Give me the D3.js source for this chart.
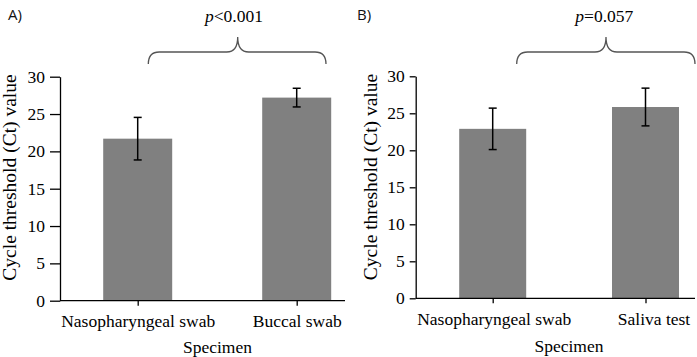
<!DOCTYPE html>
<html><head><meta charset="utf-8">
<script src="https://cdn.jsdelivr.net/npm/d3@7"></script>
<style>body{margin:0;background:#fff}svg{display:block}</style>
</head><body>
<script>
const panelLabels = ["A)", "B)"];
const categoriesA = ["Nasopharyngeal swab", "Buccal swab"];
const meansA = [21.7, 27.2];
const errorsA = [2.85, 1.25];
const pLabelA = "<0.001";
const categoriesB = ["Nasopharyngeal swab", "Saliva test"];
const meansB = [22.9, 25.85];
const errorsB = [2.8, 2.55];
const pLabelB = "=0.057";
const yTicks = [0, 5, 10, 15, 20, 25, 30];
const yTitle = "Cycle threshold (Ct) value";
const xTitle = "Specimen";

const W = 697, H = 357;
const svg = d3.select("body").append("svg").attr("width", W).attr("height", H);
const serif = "'Liberation Serif', 'Times New Roman', serif";

function panel(cfg) {
  const g = svg.append("g");
  const y = d3.scaleLinear().domain([0, 30]).range([cfg.y0, cfg.y30]);
  const x = d3.scalePoint().domain(cfg.cats).range(cfg.xr);

  // bars
  g.selectAll("rect.bar").data(cfg.cats).enter().append("rect")
    .attr("x", d => x(d) - cfg.bw / 2)
    .attr("width", cfg.bw)
    .attr("y", (d, i) => y(cfg.means[i]))
    .attr("height", (d, i) => y(0) - y(cfg.means[i]))
    .attr("fill", "#808080");

  // error bars
  const eb = g.selectAll("g.err").data(cfg.cats).enter().append("g");
  eb.append("line")
    .attr("x1", d => x(d)).attr("x2", d => x(d))
    .attr("y1", (d, i) => y(cfg.means[i] + cfg.errs[i]))
    .attr("y2", (d, i) => y(cfg.means[i] - cfg.errs[i]))
    .attr("stroke", "#000").attr("stroke-width", 1.5);
  [1, -1].forEach(s => {
    eb.append("line")
      .attr("x1", d => x(d) - 4).attr("x2", d => x(d) + 4)
      .attr("y1", (d, i) => y(cfg.means[i] + s * cfg.errs[i]))
      .attr("y2", (d, i) => y(cfg.means[i] + s * cfg.errs[i]))
      .attr("stroke", "#000").attr("stroke-width", 1.5);
  });

  // y axis
  const ya = g.append("g").attr("transform", `translate(${cfg.ax},0)`)
    .call(d3.axisLeft(y).tickValues(yTicks).tickSize(cfg.tl).tickPadding(5).tickSizeOuter(0));
  ya.select(".domain").attr("stroke", "#000").attr("stroke-width", 1.3);
  ya.selectAll(".tick line").attr("stroke", "#000").attr("stroke-width", 1.3);
  ya.selectAll("text").attr("font-family", serif).attr("font-size", 17.5).attr("fill", "#000");

  // x axis line
  g.append("line").attr("x1", cfg.ax).attr("x2", cfg.axEnd)
    .attr("y1", y(0)).attr("y2", y(0)).attr("stroke", "#000").attr("stroke-width", 1.3);
  const xa = g.append("g").attr("transform", `translate(0,${y(0)})`)
    .call(d3.axisBottom(x).tickSize(5).tickSizeOuter(0).tickPadding(9));
  xa.select(".domain").remove();
  xa.selectAll(".tick line").attr("stroke", "#000").attr("stroke-width", 1.3);
  xa.selectAll("text").attr("font-family", serif).attr("font-size", 17.5).attr("fill", "#000")
    .attr("dx", (d, i) => cfg.labelDx[i]);

  // titles
  g.append("text").attr("x", cfg.xtx).attr("y", cfg.xty).attr("text-anchor", "middle")
    .attr("font-family", serif).attr("font-size", 17.5).text(xTitle);
  g.append("text").attr("transform", `translate(${cfg.ytx},${cfg.yty}) rotate(-90)`)
    .attr("text-anchor", "middle").attr("dominant-baseline", "central")
    .attr("font-family", serif).attr("font-size", 19.5).text(yTitle);

  // panel letter
  g.append("text").attr("x", cfg.lx).attr("y", 20)
    .attr("font-family", "'Open Sans', 'Liberation Sans', sans-serif").attr("font-size", 15)
    .attr("fill", "#111").text(cfg.letter);

  // brace
  const [l, r, tip] = cfg.brace;
  const yb = 52, ye = 64, yt = 37, rr = 11;
  const p = d3.path();
  p.moveTo(l, ye);
  p.quadraticCurveTo(l, yb, l + rr, yb);
  p.lineTo(tip - rr, yb);
  p.quadraticCurveTo(tip, yb, tip, yt);
  p.quadraticCurveTo(tip, yb, tip + rr, yb);
  p.lineTo(r - rr, yb);
  p.quadraticCurveTo(r, yb, r, ye);
  g.append("path").attr("d", p.toString()).attr("fill", "none")
    .attr("stroke", "#555").attr("stroke-width", 1.3);

  const pt = g.append("text").attr("x", cfg.px).attr("y", 22).attr("text-anchor", "middle")
    .attr("font-family", serif).attr("font-size", 17.5).attr("fill", "#000");
  pt.append("tspan").attr("font-style", "italic").text("p");
  pt.append("tspan").text(cfg.plabel);
}

panel({cats: categoriesA, means: meansA, errs: errorsA, y0: 300.7, y30: 76.7,
  xr: [137.7, 296.7], bw: 69, ax: 60, axEnd: 345, tl: 10, labelDx: [0, 0],
  xtx: 217.5, xty: 353, ytx: 9.5, yty: 177.5, lx: 8, letter: panelLabels[0],
  brace: [148.3, 326, 237.7], px: 234, plabel: pLabelA});
panel({cats: categoriesB, means: meansB, errs: errorsB, y0: 298.3, y30: 76.3,
  xr: [492.7, 645.5], bw: 67, ax: 415.7, axEnd: 695, tl: 6, labelDx: [1, 8],
  xtx: 569, xty: 352, ytx: 370, yty: 177, lx: 357, letter: panelLabels[1],
  brace: [516.7, 695, 606], px: 604.3, plabel: pLabelB});
</script>
</body></html>
